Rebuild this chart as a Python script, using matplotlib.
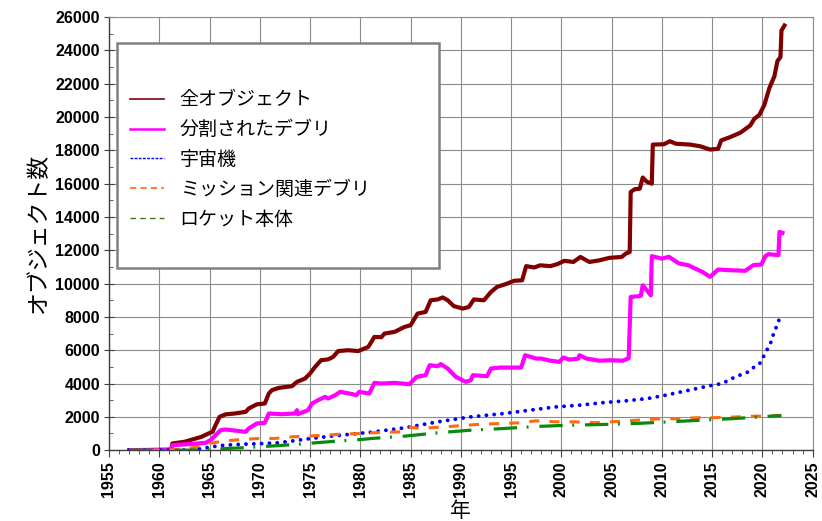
import matplotlib
matplotlib.use("Agg")
import matplotlib.pyplot as plt
from matplotlib.lines import Line2D
from matplotlib.patches import Rectangle
from matplotlib.ticker import MultipleLocator

plt.rcParams["font.family"] = ["Noto Sans CJK JP", "DejaVu Sans"]

# %%
# Values
total_years = [1957.0, 1958.0, 1959.0, 1960.0, 1961.2, 1961.3, 1962.5, 1963.3, 1964.2, 1964.9,
               1965.3, 1965.6, 1966.0, 1966.6, 1967.5, 1968.6, 1968.9, 1969.7, 1970.5, 1970.9,
               1971.2, 1971.9, 1973.2, 1973.7, 1974.5, 1975.0, 1975.5, 1976.1, 1976.8, 1977.3,
               1977.8, 1978.8, 1979.8, 1980.8, 1981.4, 1982.1, 1982.4, 1983.4, 1984.4, 1985.0,
               1985.7, 1986.5, 1987.0, 1987.7, 1988.2, 1988.7, 1989.3, 1990.2, 1990.8, 1991.3,
               1992.3, 1993.0, 1993.6, 1994.6, 1995.3, 1996.1, 1996.5, 1997.3, 1997.9, 1998.9,
               1999.6, 2000.3, 2001.2, 2001.9, 2002.8, 2003.8, 2004.8, 2006.0, 2006.4, 2006.8,
               2006.9, 2007.3, 2007.8, 2008.1, 2008.5, 2009.0, 2009.1, 2010.2, 2010.8, 2011.4,
               2012.8, 2013.8, 2014.8, 2015.6, 2015.9, 2016.8, 2017.8, 2018.8, 2019.2, 2019.7,
               2020.2, 2020.7, 2021.2, 2021.5, 2021.8, 2021.9, 2022.2]
total_vals = [0, 5, 10, 20, 30, 400, 500, 640, 800, 1000,
              1100, 1500, 2000, 2150, 2200, 2300, 2500, 2750, 2800, 3400,
              3600, 3740, 3840, 4100, 4300, 4600, 5000, 5400, 5450, 5600,
              5950, 6000, 5950, 6200, 6800, 6780, 7000, 7100, 7400, 7500,
              8200, 8300, 9000, 9050, 9170, 9000, 8650, 8500, 8600, 9050,
              9000, 9500, 9800, 10000, 10170, 10200, 11050, 10970, 11100, 11050,
              11170, 11370, 11300, 11600, 11300, 11400, 11550, 11600, 11800, 11900,
              15500, 15670, 15700, 16370, 16120, 16000, 18350, 18370, 18550, 18400,
              18350, 18250, 18050, 18100, 18600, 18800, 19060, 19500, 19900, 20130,
              20740, 21750, 22460, 23370, 23600, 25200, 25500]

frag_years = [1957.0, 1960.0, 1961.2, 1961.3, 1963.5, 1964.6, 1965.1, 1965.6, 1966.1, 1966.6,
              1968.6, 1968.9, 1969.7, 1970.5, 1970.9, 1972.2, 1973.5, 1973.7, 1973.8, 1974.8,
              1975.2, 1975.8, 1976.5, 1976.8, 1977.5, 1978.0, 1979.1, 1979.6, 1979.9, 1980.9,
              1981.4, 1982.1, 1983.4, 1984.9, 1985.6, 1986.5, 1986.9, 1987.7, 1988.0, 1988.7,
              1989.5, 1990.5, 1991.0, 1991.2, 1992.6, 1993.0, 1993.9, 1996.0, 1996.4, 1997.5,
              1998.0, 1998.9, 1999.8, 2000.2, 2000.8, 2001.7, 2001.8, 2002.5, 2003.8, 2004.8,
              2006.1, 2006.7, 2006.9, 2007.9, 2008.1, 2008.9, 2009.0, 2010.0, 2010.7, 2011.7,
              2012.6, 2014.0, 2014.8, 2015.6, 2016.6, 2018.3, 2019.1, 2019.9, 2020.3, 2020.6,
              2021.6, 2021.7, 2022.0]
frag_vals = [0, 10, 20, 300, 380, 440, 600, 900, 1200, 1240,
             1100, 1300, 1600, 1640, 2200, 2160, 2200, 2400, 2160, 2400,
             2800, 3000, 3200, 3100, 3300, 3500, 3380, 3300, 3500, 3400,
             4040, 4000, 4040, 3960, 4400, 4500, 5100, 5040, 5170, 4900,
             4400, 4100, 4200, 4500, 4440, 4900, 4960, 4960, 5700, 5500,
             5500, 5370, 5300, 5560, 5440, 5500, 5700, 5500, 5370, 5400,
             5370, 5520, 9200, 9260, 9900, 9300, 11650, 11500, 11610, 11210,
             11110, 10710, 10410, 10850, 10810, 10770, 11110, 11150, 11650, 11770,
             11710, 13110, 13050]

sc_years = [1957.0, 1961.0, 1963.0, 1964.3, 1965.2, 1966.5, 1968.5, 1970.5, 1971.8, 1973.1,
            1975.1, 1977.1, 1979.1, 1981.1, 1984.4, 1987.7, 1991.0, 1994.3, 1997.5, 1999.5,
            2001.8, 2004.1, 2006.4, 2008.6, 2010.7, 2013.0, 2014.7, 2016.0, 2017.3, 2018.6,
            2019.2, 2019.8, 2020.1, 2020.4, 2020.8, 2021.0, 2021.3, 2021.8]
sc_vals = [0, 0, 10, 100, 200, 300, 360, 400, 440, 540,
           700, 840, 960, 1080, 1340, 1700, 2000, 2200, 2450, 2600,
           2700, 2850, 2960, 3100, 3340, 3640, 3860, 4000, 4400, 4700,
           5000, 5240, 5600, 5960, 6400, 6800, 7260, 8050]

mr_years = [1957.0, 1961.0, 1961.6, 1963.3, 1964.9, 1966.6, 1968.2, 1969.9, 1971.5, 1973.2,
            1974.8, 1976.5, 1978.1, 1980.1, 1981.1, 1984.0, 1984.7, 1986.0, 1989.3, 1991.6,
            1993.9, 1995.8, 1997.5, 1999.5, 2001.4, 2003.4, 2005.5, 2007.4, 2009.4, 2011.4,
            2013.7, 2015.3, 2017.3, 2019.0, 2020.9, 2021.9]
mr_vals = [0, 0, 40, 140, 400, 560, 640, 700, 700, 800,
           840, 900, 960, 1000, 1040, 1100, 1400, 1300, 1440, 1540,
           1600, 1640, 1760, 1700, 1700, 1650, 1720, 1790, 1870, 1890,
           1950, 1950, 1990, 2030, 2070, 2090]

rb_years = [1957.0, 1963.0, 1964.9, 1966.6, 1968.2, 1969.9, 1971.5, 1973.5, 1975.5, 1978.1,
            1980.1, 1981.1, 1984.4, 1987.7, 1991.0, 1994.3, 1997.5, 2000.8, 2004.1, 2007.4,
            2010.7, 2014.0, 2017.3, 2020.6, 2021.9]
rb_vals = [0, 0, 40, 100, 140, 200, 260, 340, 440, 560,
           640, 700, 840, 1040, 1200, 1300, 1420, 1500, 1540, 1600,
           1700, 1800, 1900, 2030, 2070]

labels = ["全オブジェクト", "分割されたデブリ", "宇宙機", "ミッション関連デブリ", "ロケット本体"]

# %%
fig = plt.figure(figsize=(8.22, 5.21), dpi=100)
ax = fig.add_axes([0.1326, 0.136, 0.856, 0.831])

ax.plot(total_years, total_vals, color="#800000", lw=3.0, solid_joinstyle="round", zorder=3)
ax.plot(frag_years, frag_vals, color="#ff00ff", lw=3.0, solid_joinstyle="round", zorder=3)
ax.plot(sc_years, sc_vals, color="#0000ff", lw=2.8, linestyle=(0, (0.01, 2.0)),
        dash_capstyle="round", zorder=3)
ax.plot(mr_years, mr_vals, color="#ff6a10", lw=2.2, linestyle=(0, (3.3, 3.3)), zorder=3)
ax.plot(rb_years, rb_vals, color="#0a8a0a", lw=2.3, linestyle=(0, (7.3, 3.0, 0.6, 3.4)), zorder=3)

ax.set_xlim(1955, 2025)
ax.set_ylim(0, 26000)
ax.xaxis.set_major_locator(MultipleLocator(5))
ax.xaxis.set_minor_locator(MultipleLocator(1))
ax.yaxis.set_major_locator(MultipleLocator(2000))
ax.yaxis.set_minor_locator(MultipleLocator(1000))
ax.grid(True, which="major", color="#8c8c8c", lw=0.8, zorder=1)

tick_font = dict(family="Liberation Sans", weight="bold", size=11.5)
ax.set_xticks(range(1955, 2026, 5))
ax.set_xticklabels([str(y) for y in range(1955, 2026, 5)], rotation=90, **tick_font)
ax.set_yticks(range(0, 26001, 2000))
ax.set_yticklabels([str(v) for v in range(0, 26001, 2000)], **tick_font)
ax.tick_params(axis="x", which="major", direction="out", length=5, color="#404040", pad=3)
ax.tick_params(axis="x", which="minor", direction="out", length=3, color="#404040")
ax.tick_params(axis="y", which="major", direction="inout", length=7, color="#404040", pad=3)
ax.tick_params(axis="y", which="minor", direction="in", length=3, color="#404040")

for side in ["top", "right"]:
    ax.spines[side].set_color("#8c8c8c")
    ax.spines[side].set_linewidth(0.8)
for side in ["left", "bottom"]:
    ax.spines[side].set_color("#404040")
    ax.spines[side].set_linewidth(1.0)

ax.set_ylabel("オブジェクト数", fontsize=16.5, labelpad=4)
ax.set_xlabel("年", fontsize=15, labelpad=2)

# legend box, drawn separately so its padding matches the reference
box = Rectangle((0.011, 0.42), 0.458, 0.52, transform=ax.transAxes,
                facecolor="white", edgecolor="#808080", lw=1.8, zorder=4)
ax.add_patch(box)
handles = [
    Line2D([], [], color="#8b1a1a", lw=1.3),
    Line2D([], [], color="#ff00ff", lw=1.8),
    Line2D([], [], color="#0000ff", lw=1.0, linestyle=(0, (2, 1))),
    Line2D([], [], color="#ff7f3f", lw=1.5, linestyle=(0, (3, 2))),
    Line2D([], [], color="#3c7a14", lw=1.0, linestyle=(0, (4, 3))),
]
leg = ax.legend(handles, labels, loc="upper left", bbox_to_anchor=(0.03, 0.833),
                frameon=False, fontsize=13.7, borderpad=0, labelspacing=0.46,
                handlelength=1.8, handletextpad=0.8, borderaxespad=0)
leg.set_zorder(5)

fig.savefig("out.png", dpi=100)
